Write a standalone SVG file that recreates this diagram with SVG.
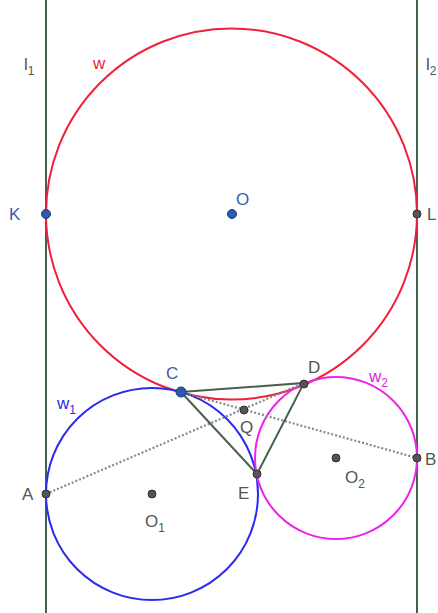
<svg xmlns="http://www.w3.org/2000/svg" width="438" height="613" viewBox="0 0 438 613">
<style>
.lbl{font-family:"Liberation Sans",Arial,sans-serif;font-size:17px;fill:#555}
.sub{font-size:12px}
.blue{fill:#3a5aa8}
.red{fill:#ee1c3c}
.mag{fill:#e020d8}
.ln{stroke:#48604a;stroke-width:2;fill:none}
.dot{stroke:#888;stroke-width:2.2;stroke-dasharray:2 2;fill:none}
.pt{fill:#555;stroke:#333;stroke-width:1}
.bpt{fill:#2a5bb0;stroke:#1a3a70;stroke-width:1}
</style>
<rect width="438" height="613" fill="#fff"/>
<g id="connectors">
<line class="ln" x1="46" y1="0" x2="46" y2="613"/>
<line class="ln" x1="417" y1="0" x2="417" y2="613"/>
<circle id="w" cx="231.5" cy="214" r="185.5" fill="none" stroke="#f0203c" stroke-width="2"/>
<circle id="w1" cx="152" cy="494" r="106" fill="none" stroke="#2a2af0" stroke-width="2"/>
<circle id="w2" cx="336" cy="458" r="81" fill="none" stroke="#ee22ee" stroke-width="2"/>
<line class="dot" x1="46" y1="494" x2="304" y2="383"/>
<line class="dot" x1="181" y1="392" x2="417" y2="458"/>
<polygon class="ln" points="181,392 304,383 257,474"/>
</g>
<g id="K"><circle class="bpt" cx="46" cy="214" r="4.5"/><text class="lbl blue" x="9" y="220">K</text></g>
<g id="O"><circle class="bpt" cx="232" cy="214" r="4.5"/><text class="lbl blue" x="236" y="205">O</text></g>
<g id="L"><circle class="pt" cx="417" cy="214" r="4"/><text class="lbl" x="427" y="220">L</text></g>
<g id="C"><circle class="bpt" cx="181" cy="392" r="5"/><text class="lbl blue" x="166" y="379">C</text></g>
<g id="D"><circle class="pt" cx="304" cy="384" r="4"/><text class="lbl" x="308" y="373">D</text></g>
<g id="E"><circle class="pt" cx="257" cy="474" r="4"/><text class="lbl" x="238" y="499">E</text></g>
<g id="Q"><circle class="pt" cx="244" cy="410" r="4"/><text class="lbl" x="240" y="433">Q</text></g>
<g id="A"><circle class="pt" cx="46" cy="494" r="4"/><text class="lbl" x="22" y="500">A</text></g>
<g id="B"><circle class="pt" cx="417" cy="458" r="4"/><text class="lbl" x="425" y="465">B</text></g>
<g id="O1"><circle class="pt" cx="152" cy="494" r="4"/><text class="lbl" x="145" y="527">O<tspan class="sub" dy="5">1</tspan></text></g>
<g id="O2"><circle class="pt" cx="336" cy="458" r="4"/><text class="lbl" x="345" y="483">O<tspan class="sub" dy="5">2</tspan></text></g>
<g id="labels">
<text class="lbl" x="24" y="70">l<tspan class="sub" dy="5">1</tspan></text>
<text class="lbl" x="426" y="70">l<tspan class="sub" dy="5">2</tspan></text>
<text class="lbl red" x="93" y="69">w</text>
<text class="lbl" x="57" y="409" style="fill:#2a2af0">w<tspan class="sub" dy="5">1</tspan></text>
<text class="lbl mag" x="369" y="382">w<tspan class="sub" dy="5">2</tspan></text>
</g>
</svg>
